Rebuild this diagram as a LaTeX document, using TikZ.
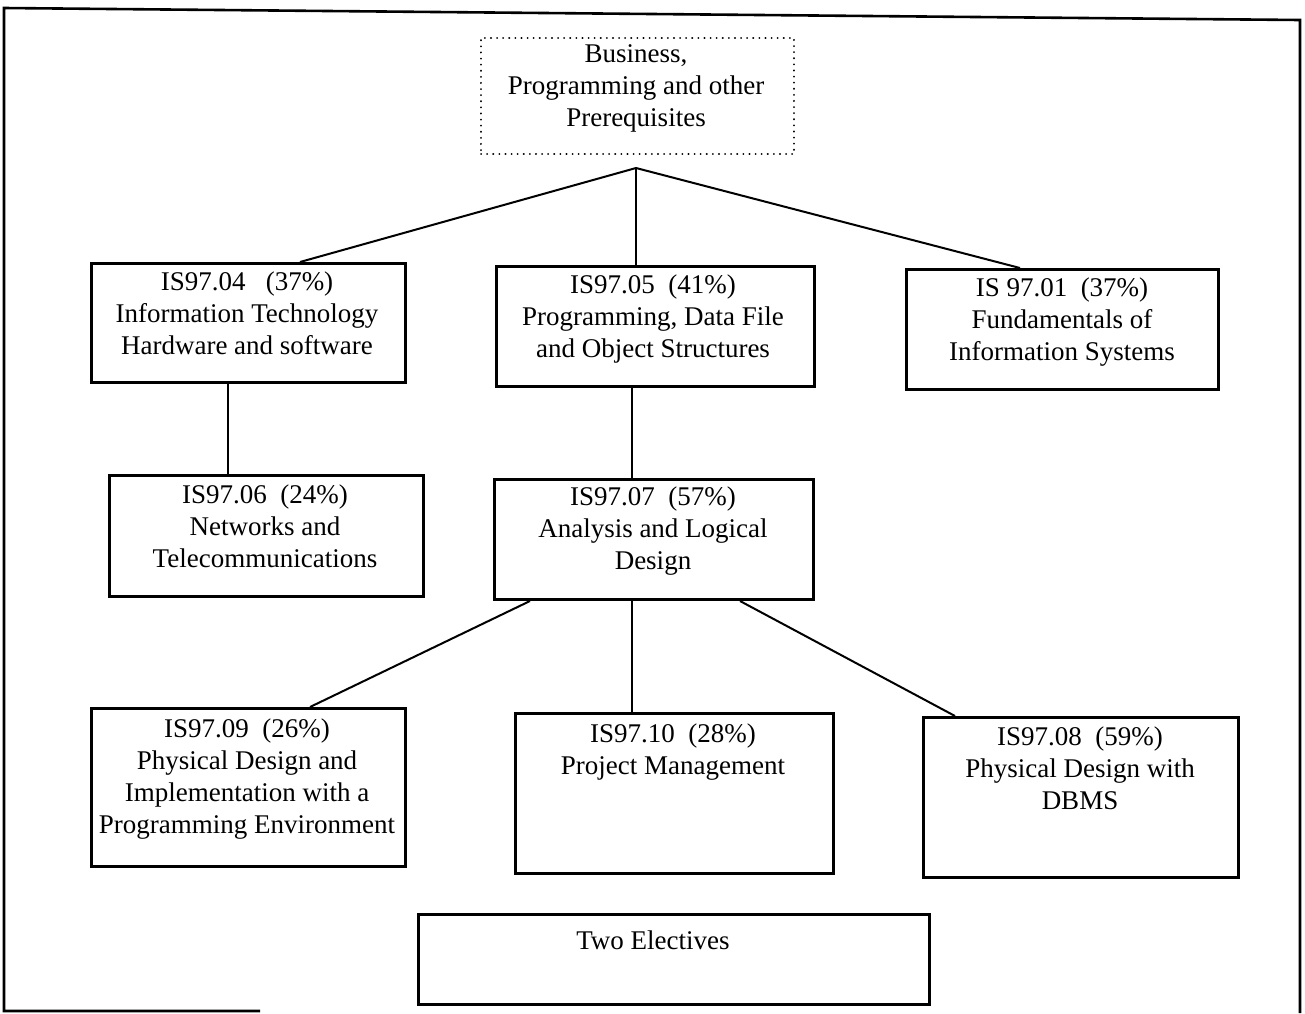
\documentclass[tikz,border=0pt]{standalone}
\usepackage{fontspec}
\setmainfont{Liberation Serif}
\begin{document}
\begin{tikzpicture}[x=1pt,y=-1pt,
  box/.style={draw, line width=3pt, rectangle, inner sep=0pt, anchor=north west},
  prereq/.style={draw, line width=2pt, line cap=round, dash pattern=on 0.1pt off 6pt, rectangle, inner sep=0pt, anchor=north west},
  txt/.style={anchor=north, align=center, inner sep=0pt, font=\fontsize{27}{32}\selectfont},
  link/.style={line width=2pt},
  frame/.style={line width=2.6pt}
]
\useasboundingbox (0,0) rectangle (1305,1013);
% outer frame
\coordinate (f1) at (4,1011);
\coordinate (f2) at (4,8);
\coordinate (f3) at (1300,20);
\coordinate (f4) at (1300,1013);
\coordinate (f5) at (260,1011);
\draw[frame] (f4) -- (f3) -- (f2) -- (f1) -- (f5);

% boxes
\node[prereq, minimum width=313pt, minimum height=116pt] (pre) at (480,37) {};
\node[txt] (pret) at (636,44) {Business,\\Programming and other\\Prerequisites};

\node[box, minimum width=314pt, minimum height=119pt] (b04) at (90,262) {};
\node[txt] (b04t) at (247,272) {IS97.04\ \ \ (37\%)\\Information Technology\\Hardware and software};

\node[box, minimum width=318pt, minimum height=120pt] (b05) at (495,265) {};
\node[txt] (b05t) at (653,275) {IS97.05\ \ (41\%)\\Programming, Data File\\and Object Structures};

\node[box, minimum width=312pt, minimum height=120pt] (b01) at (905,268) {};
\node[txt] (b01t) at (1062,278) {IS 97.01\ \ (37\%)\\Fundamentals of\\Information Systems};

\node[box, minimum width=314pt, minimum height=121pt] (b06) at (108,474) {};
\node[txt] (b06t) at (265,485) {IS97.06\ \ (24\%)\\Networks and\\Telecommunications};

\node[box, minimum width=319pt, minimum height=120pt] (b07) at (493,478) {};
\node[txt] (b07t) at (653,487) {IS97.07\ \ (57\%)\\Analysis and Logical\\Design};

\node[box, minimum width=314pt, minimum height=158pt] (b09) at (90,707) {};
\node[txt] (b09t) at (247,719) {IS97.09\ \ (26\%)\\Physical Design and\\Implementation with a\\Programming Environment};

\node[box, minimum width=318pt, minimum height=160pt] (b10) at (514,712) {};
\node[txt] (b10t) at (673,724) {IS97.10\ \ (28\%)\\Project Management};

\node[box, minimum width=315pt, minimum height=160pt] (b08) at (922,716) {};
\node[txt] (b08t) at (1080,727) {IS97.08\ \ (59\%)\\Physical Design with\\DBMS};

\node[box, minimum width=511pt, minimum height=90pt] (el) at (417,913) {};
\node[txt] (elt) at (653,931) {Two Electives};

% connectors
\coordinate (hub) at (636,168);
\draw[link] (hub) -- (b04.north west -| 300,0);
\draw[link] (hub) -- (hub |- b05.north);
\draw[link] (hub) -- (b01.north west -| 1020,0);

\draw[link] (b04.south west -| 228,0) -- (b06.north west -| 228,0);
\draw[link] (b05.south west -| 632,0) -- (b07.north west -| 632,0);

\draw[link] (b07.south west -| 530,0) -- (b09.north west -| 310,0);
\draw[link] (b07.south west -| 632,0) -- (b10.north west -| 632,0);
\draw[link] (b07.south west -| 740,0) -- (b08.north west -| 955,0);
\end{tikzpicture}
\end{document}
